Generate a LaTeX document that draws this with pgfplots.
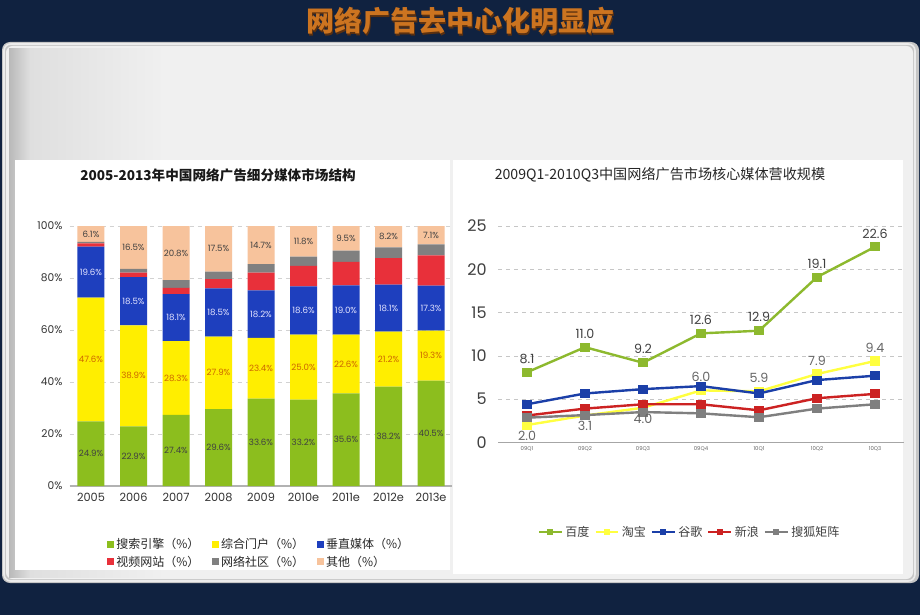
\documentclass[border=0pt]{standalone}
\usepackage{fontspec}
\setmainfont{Noto Sans CJK SC}
\newfontfamily\numf{Poppins}
\usepackage{pgfplots}
\usepackage{pgfplotstable}
\pgfplotsset{compat=1.18}
\definecolor{navy}{HTML}{102240}
\definecolor{ttl}{HTML}{CC7420}
\definecolor{ttlsh}{HTML}{5A3010}
\definecolor{cpanel}{HTML}{F0F0F0}
\definecolor{cgreen}{HTML}{8CBE1E}
\definecolor{cyellow}{HTML}{FFEE00}
\definecolor{cblue}{HTML}{1E3FBE}
\definecolor{cred}{HTML}{E8303A}
\definecolor{cgrey}{HTML}{808080}
\definecolor{ctan}{HTML}{F5B483}
\definecolor{lgreen}{HTML}{8DB92E}
\definecolor{lyellow}{HTML}{FFFF40}
\definecolor{lblue}{HTML}{1B3FA8}
\definecolor{lred}{HTML}{CC2222}
\definecolor{lgrey}{HTML}{7F7F7F}
\pgfplotsset{sqleg/.style={legend image code/.code={\fill[##1] (0pt,-2.7pt) rectangle (5.4pt,2.7pt);}}}

\pgfplotstableread{
x s p v vid c o
0 24.9 47.6 19.6 1.2 0.6 6.1
1 22.9 38.9 18.5 1.8 1.4 16.5
2 27.4 28.3 18.1 2.4 3.0 20.8
3 29.6 27.9 18.5 3.6 2.9 17.5
4 33.6 23.4 18.2 6.9 3.2 14.7
5 33.2 25.0 18.6 7.9 3.5 11.8
6 35.6 22.6 19.0 9.0 4.3 9.5
7 38.2 21.2 18.1 10.1 4.2 8.2
8 40.5 19.3 17.3 11.6 4.2 7.1
}\share

\pgfplotstableread{
x bd tb gg xl sh
0 8.1 2.0 4.4 3.1 2.85
1 11.0 3.1 5.65 3.9 3.15
2 9.2 4.0 6.15 4.4 3.5
3 12.6 6.0 6.5 4.4 3.35
4 12.9 5.9 5.65 3.7 2.9
5 19.1 7.9 7.2 5.1 3.9
6 22.6 9.4 7.7 5.6 4.4
}\rev

\begin{document}
\begin{tikzpicture}[x=0.75pt,y=0.75pt]
\fill[navy] (0,0) rectangle (920,615);
\useasboundingbox (0,0) rectangle (920,615);
% panel
\fill[gray!45, rounded corners=6pt] (2,32) rectangle (919,573);
\draw[white!85!gray, line width=1.2pt, rounded corners=5pt] (4,34) rectangle (915,571);
\fill[cpanel, rounded corners=5pt] (6,36) rectangle (913,569);
\shade[left color=gray!55, right color=gray!25] (9,38) rectangle (30,566);
\shade[left color=gray!25, right color=cpanel] (30,38) rectangle (165,566);
\fill[white] (15,45) rectangle (450,455);
\fill[white] (453,41) rectangle (903,455);
% titles
\node[text=ttlsh, font=\bfseries\fontsize{21}{21}\selectfont] at (461.5,592.5) {网络广告去中心化明显应};
\node[text=ttl, font=\bfseries\fontsize{21}{21}\selectfont] at (460,594) {网络广告去中心化明显应};
\node[text=black!90, font=\bfseries\fontsize{10.2}{11}\selectfont] at (218,440) {2005-2013年中国网络广告细分媒体市场结构};
\node[text=black!85, font=\fontsize{10.6}{11}\selectfont] at (660,440) {2009Q1-2010Q3中国网络广告市场核心媒体营收规模};

% ---------- stacked bars ----------
\begin{axis}[
  at={(52.31pt,96.75pt)}, anchor=south west, scale only axis,
  width=286.9pt, height=195pt,
  ybar stacked, bar width=20.25pt,
  xmin=-0.5, xmax=8.5, ymin=0, ymax=100,
  xtick={0,...,8},
  xticklabels={2005,2006,2007,2008,2009,2010e,2011e,2012e,2013e},
  ytick={0,20,40,60,80,100},
  yticklabels={0\%,20\%,40\%,60\%,80\%,100\%},
  ymajorgrids, grid style={dashed, gray!35},
  axis x line*=bottom, axis y line*=left,
  y axis line style={draw=none},
  x axis line style={gray!60, line width=0.8pt},
  tick style={draw=none},
  xticklabel style={font=\numf\fontsize{8.5}{9}\selectfont, text=black!80, yshift=-2pt},
  yticklabel style={font=\numf\fontsize{8}{9}\selectfont, text=black!80, xshift=-2pt},
  legend columns=3, legend cell align=left,
  legend style={at={(0.495,-0.258)}, anchor=center, draw=none, fill=none,
    font=\fontsize{9}{10}\selectfont, text=black!85,
    nodes={inner xsep=1.5pt},
    /tikz/every even column/.append style={column sep=8pt}},
  clip=false,
]
\addplot[fill=cgreen, draw=none, sqleg] table[x=x,y=s]{\share};
\addplot[fill=cyellow, draw=none, sqleg] table[x=x,y=p]{\share};
\addplot[fill=cblue, draw=none, sqleg] table[x=x,y=v]{\share};
\addplot[fill=cred, draw=none, sqleg] table[x=x,y=vid]{\share};
\addplot[fill=cgrey, draw=none, sqleg] table[x=x,y=c]{\share};
\addplot[fill=ctan!80!white, draw=none, sqleg] table[x=x,y=o]{\share};
\legend{搜索引擎（\%）,综合门户（\%）,垂直媒体（\%）,视频网站（\%）,网络社区（\%）,其他（\%）}
\end{axis}

% ---------- bar labels overlay ----------
\begin{axis}[
  at={(52.31pt,96.75pt)}, anchor=south west, scale only axis,
  width=286.9pt, height=195pt, hide axis, clip=false,
  xmin=-0.5, xmax=8.5, ymin=0, ymax=100,
  nodes near coords={\pgfmathprintnumber[fixed,fixed zerofill,precision=1]{\pgfplotspointmeta}\%},
  every node near coord/.append style={anchor=center, font=\numf\fontsize{6.5}{7}\selectfont},
  /pgf/number format/assume math mode=true,
]
\addplot[draw=none, mark=none, point meta=explicit, every node near coord/.append style={text=black!75}]
  table[x=x, y expr=\thisrow{s}/2, meta=s]{\share};
\addplot[draw=none, mark=none, point meta=explicit, every node near coord/.append style={text=orange!80!black}]
  table[x=x, y expr=\thisrow{s}+\thisrow{p}/2, meta=p]{\share};
\addplot[draw=none, mark=none, point meta=explicit, every node near coord/.append style={text=blue!10!white}]
  table[x=x, y expr=\thisrow{s}+\thisrow{p}+\thisrow{v}/2, meta=v]{\share};
\addplot[draw=none, mark=none, point meta=explicit, every node near coord/.append style={text=black!75}]
  table[x=x, y expr=100-\thisrow{o}/2, meta=o]{\share};
\end{axis}

% ---------- line chart ----------
\begin{axis}[
  at={(373.5pt,129.5pt)}, anchor=south west, scale only axis,
  width=304.5pt, height=162.2pt,
  xmin=-0.5, xmax=6.5, ymin=0, ymax=25,
  xtick={0,...,6},
  xticklabels={09Q1,09Q2,09Q3,09Q4,10Q1,10Q2,10Q3},
  ytick={0,5,10,15,20,25},
  ymajorgrids, grid style={dashed, gray!45},
  axis x line*=bottom, axis y line*=left,
  y axis line style={draw=none},
  x axis line style={gray!70, line width=1pt},
  tick style={draw=none},
  /pgf/number format/assume math mode=true,
  yticklabel style={font=\numf\fontsize{12}{13}\selectfont, text=black!75, xshift=-5pt},
  xticklabel style={font=\numf\fontsize{4}{5}\selectfont, text=black!60},
  legend columns=-1,
  legend style={at={(0.473,-0.415)}, anchor=center, draw=none, fill=none,
    font=\fontsize{9}{10}\selectfont, text=black!75,
    /tikz/every even column/.append style={column sep=2pt}},
  legend image post style={mark size=1.6pt, line width=1.3pt},
  lp/.style={line width=1.8pt, mark=square*, mark size=2.5pt},
  lab/.style={draw=none, mark=none, forget plot,
    nodes near coords={\pgfmathprintnumber[fixed,fixed zerofill,precision=1]{\pgfplotspointmeta}},
    every node near coord/.append style={font=\numf\fontsize{9.5}{10}\selectfont}},
  clip=false,
]
\addplot[color=lgreen, lp] table[x=x,y=bd]{\rev};
\addplot[color=lyellow, lp] table[x=x,y=tb]{\rev};
\addplot[color=lblue, lp] table[x=x,y=gg]{\rev};
\addplot[color=lred, lp] table[x=x,y=xl]{\rev};
\addplot[color=lgrey, lp] table[x=x,y=sh]{\rev};
\addplot[lab, every node near coord/.append style={text=black!75, anchor=south, yshift=3pt}]
  table[x=x,y=bd]{\rev};
\addplot[lab, restrict x to domain=0:2.5, every node near coord/.append style={text=black!60, anchor=north, yshift=-1pt}]
  table[x=x,y=tb]{\rev};
\addplot[lab, restrict x to domain=2.5:6.5, every node near coord/.append style={text=black!60, anchor=south, yshift=3pt}]
  table[x=x,y=tb]{\rev};
\legend{百度,淘宝,谷歌,新浪,搜狐矩阵}
\end{axis}
\end{tikzpicture}
\end{document}
